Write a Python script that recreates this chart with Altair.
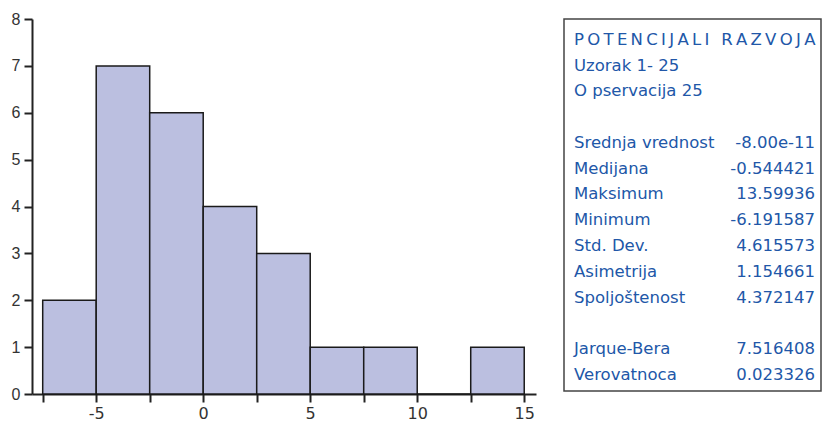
import altair as alt
import pandas as pd

# Histogram data (bins of width 2.5)
bin_start = [-7.5, -5.0, -2.5, 0.0, 2.5, 5.0, 7.5, 10.0, 12.5]
bin_end = [-5.0, -2.5, 0.0, 2.5, 5.0, 7.5, 10.0, 12.5, 15.0]
counts = [2, 7, 6, 4, 3, 1, 1, 0, 1]

x_ticks = [-7.5, -5.0, -2.5, 0.0, 2.5, 5.0, 7.5, 10.0, 12.5, 15.0]
y_ticks = [0, 1, 2, 3, 4, 5, 6, 7, 8]

# Statistics panel
title_text = "POTENCIJALI RAZVOJA"
header_lines = ["\u2009".join(title_text), "Uzorak 1- 25", "O pservacija 25"]
header_rows = [0, 1, 2]
stat_names = ["Srednja vrednost", "Medijana", "Maksimum", "Minimum", "Std. Dev.",
              "Asimetrija", "Spoljoštenost", "Jarque-Bera", "Verovatnoca"]
stat_values = ["-8.00e-11", "-0.544421", "13.59936", "-6.191587", "4.615573",
               "1.154661", "4.372147", "7.516408", "0.023326"]
stat_rows = [4, 5, 6, 7, 8, 9, 10, 12, 13]

BLUE = "#2157a8"
TEXT_FONT = "DejaVu Sans"

hist_df = pd.DataFrame({"bin_start": bin_start, "bin_end": bin_end, "count": counts})

hist = alt.Chart(hist_df).mark_rect(
    fill="#bbbfe0", stroke="#1a1a1a", strokeWidth=1.5
).encode(
    x=alt.X("bin_start:Q",
            scale=alt.Scale(domain=[-8.0, 15.55], nice=False, zero=False),
            axis=alt.Axis(values=x_ticks,
                          labelExpr="datum.value % 5 == 0 ? '' + datum.value : ''",
                          title=None, grid=False, tickSize=8, tickWidth=2,
                          domainWidth=2, domainColor="#222", tickColor="#222",
                          labelColor="#333", labelFont="DejaVu Sans",
                          labelFontSize=16, labelPadding=3)),
    x2="bin_end:Q",
    y=alt.Y("count:Q",
            scale=alt.Scale(domain=[0, 8], nice=False),
            axis=alt.Axis(values=y_ticks, title=None, grid=False, tickSize=8,
                          tickWidth=2, domainWidth=2, domainColor="#222",
                          tickColor="#222", labelColor="#333",
                          labelFont="Liberation Sans", labelFontSize=16,
                          labelPadding=4)),
).properties(width=504, height=375)

panel_df = pd.DataFrame({
    "row": header_rows + stat_rows,
    "label": header_lines + stat_names,
    "value": [""] * len(header_rows) + stat_values,
})

yscale = alt.Scale(domain=[-0.805, 13.62], reverse=True, nice=False, zero=False)
base = alt.Chart(panel_df).encode(y=alt.Y("row:Q", scale=yscale, axis=None))

labels = base.mark_text(align="left", baseline="middle", font=TEXT_FONT,
                        fontSize=16.5, color=BLUE).encode(
    x=alt.value(10), text="label:N")
values = base.mark_text(align="right", baseline="middle", font=TEXT_FONT,
                        fontSize=16.5, color=BLUE).encode(
    x=alt.value(251), text="value:N")

panel = alt.layer(labels, values).properties(
    width=257, height=372,
    view=alt.ViewBackground(stroke="#444", strokeWidth=1.5),
)

chart = alt.hconcat(hist, panel, spacing=26).properties(
    padding={"left": 2, "top": 2, "right": 0, "bottom": 0}
).configure_view(stroke="transparent")

chart.save("out.html", embed_options={"renderer": "svg", "actions": False})
